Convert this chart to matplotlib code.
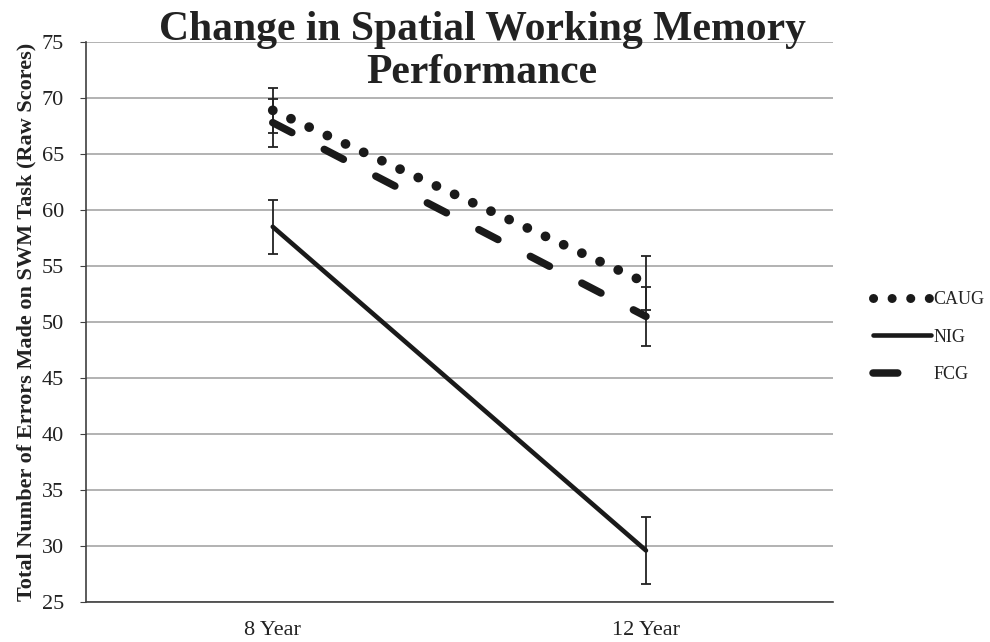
import matplotlib.pyplot as plt
from matplotlib.lines import Line2D

# data
ages = ['8 Year', '12 Year']
caug = [68.9, 53.5]
caug_err = [2.0, 2.4]
nig = [58.5, 29.6]
nig_err = [2.4, 2.95]
fcg = [67.8, 50.5]
fcg_err = [2.15, 2.65]
groups = ['CAUG', 'NIG', 'FCG']

serif = ['Liberation Serif', 'DejaVu Serif']
ink = '#1a1a1a'

fig = plt.figure(figsize=(9.9, 6.42), dpi=100)
ax = fig.add_axes([0.087, 0.0623, 0.754, 0.8723])

x = [0, 1]

# error bars first
for vals, errs in [(caug, caug_err), (nig, nig_err), (fcg, fcg_err)]:
    ax.errorbar(x, vals, yerr=errs, fmt='none', ecolor='#222222',
                elinewidth=1.3, capsize=3.8, capthick=1.3, zorder=3)

ax.plot(x, caug, color=ink, lw=7.0, linestyle=(0, (0.01, 2.05)),
        dash_capstyle='round', zorder=4)
ax.plot(x, nig, color=ink, lw=3.3, solid_capstyle='round', zorder=4)
ax.plot(x, fcg, color=ink, lw=5.4, linestyle=(0, (2.87, 4.87)),
        dash_capstyle='round', zorder=4)

ax.set_xlim(-0.5, 1.5)
ax.set_ylim(25, 75)
ax.set_yticks(range(25, 80, 5))
ax.set_xticks(x)
ax.set_xticklabels(ages, fontfamily=serif, fontsize=16, color='#222222')
for lbl in ax.get_yticklabels():
    lbl.set_fontfamily(serif)
    lbl.set_fontsize(16)
    lbl.set_color('#222222')

ax.grid(axis='y', color='#a6a6a6', lw=1.2, zorder=0)
ax.set_axisbelow(True)
for s in ['top', 'right']:
    ax.spines[s].set_visible(False)
for s in ['left', 'bottom']:
    ax.spines[s].set_color('#404040')
    ax.spines[s].set_linewidth(1.2)
ax.tick_params(axis='x', length=0, pad=14)
ax.tick_params(axis='y', length=4, color='#404040', pad=12)

ax.set_ylabel('Total Number of Errors Made on SWM Task (Raw Scores)',
              fontfamily=serif, fontweight='bold', fontsize=16, labelpad=4,
              color='#222222')

title_font = dict(ha='center', va='baseline', fontfamily=serif,
                  fontweight='bold', fontsize=30, color='#222222')
fig.text(0.487, 1 - 40 / 642, 'Change in Spatial Working Memory', **title_font)
fig.text(0.487, 1 - 83 / 642, 'Performance', **title_font)

# legend handles (FCG shows one short dash only)
handles = [
    Line2D([], [], color=ink, lw=6.5, linestyle=(0, (0.01, 2.05)),
           dash_capstyle='round'),
    Line2D([], [], color=ink, lw=3.3, solid_capstyle='round'),
    Line2D([], [], color=ink, lw=5.4, linestyle=(0, (3.3, 12)),
           dash_capstyle='round'),
]
leg = ax.legend(handles, groups, loc='center left',
                bbox_to_anchor=(1.032, 0.473), frameon=False,
                prop={'family': serif, 'size': 13}, handlelength=3.2,
                labelspacing=1.15, handletextpad=0.15)
for t in leg.get_texts():
    t.set_color('#222222')

fig.savefig('out.png', dpi=100)
